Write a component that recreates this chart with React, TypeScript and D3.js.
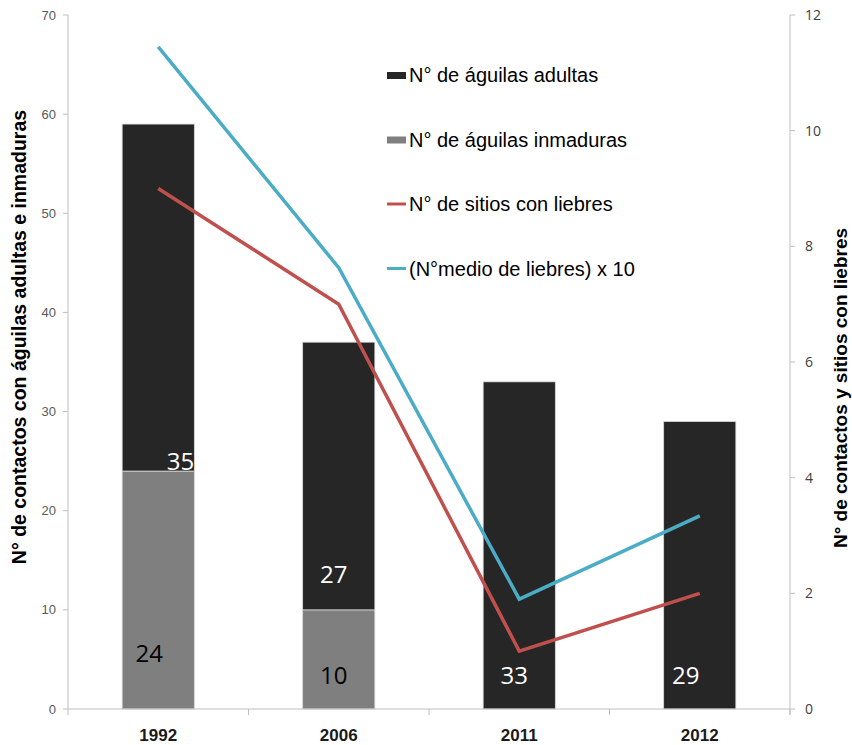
import React from "react";
import * as d3 from "d3";

const years = ["1992", "2006", "2011", "2012"];
const adultEagles = [35, 27, 33, 29];
const immatureEagles = [24, 10, 0, 0];
const sitesWithHares = [9, 7, 1, 2];
const meanHaresX10 = [11.45, 7.63, 1.9, 3.34];
const leftTicks = [0, 10, 20, 30, 40, 50, 60, 70];
const rightTicks = [0, 2, 4, 6, 8, 10, 12];

const W = 852;
const H = 745;
const margin = { left: 68, right: 62, top: 15, bottom: 36 };

const COLORS = {
  adult: "#262626",
  immature: "#7f7f7f",
  sites: "#c0504d",
  mean: "#4bacc6",
  axis: "#bfbfbf",
};

export default function App() {
  const x0 = margin.left;
  const x1 = W - margin.right;
  const yTop = margin.top;
  const yBot = H - margin.bottom;

  const x = d3.scaleBand<string>().domain(years).range([x0, x1]).paddingInner(0.6).paddingOuter(0.3);
  const yL = d3.scaleLinear().domain([0, 70]).range([yBot, yTop]);
  const yR = d3.scaleLinear().domain([0, 12]).range([yBot, yTop]);

  const cx = (yr: string) => (x(yr) as number) + x.bandwidth() / 2;
  const line = d3
    .line<number>()
    .x((_, i) => cx(years[i]))
    .y((d) => yR(d));

  const bands = years.map((yr, i) => ({
    yr,
    imm: immatureEagles[i],
    adu: adultEagles[i],
  }));

  // label placement: [dx from bar centre, dy above segment base, anchor]
  const immLabelPos: [number, number, string][] = [
    [-9, 47, "middle"],
    [-5, 25, "middle"],
  ];
  const aduLabelPos: [number, number, string][] = [
    [36, 1, "end"],
    [-5, 27, "middle"],
    [-5, 25, "middle"],
    [-14, 25, "middle"],
  ];

  const legendItems = [
    { label: "N° de águilas adultas", color: COLORS.adult, kind: "bar" },
    { label: "N° de águilas inmaduras", color: COLORS.immature, kind: "bar" },
    { label: "N° de sitios con liebres", color: COLORS.sites, kind: "line" },
    { label: "(N°medio de liebres) x 10", color: COLORS.mean, kind: "line" },
  ];
  const legendX = 387;
  const legendY0 = 75;
  const legendStep = 64.5;

  const labelFont = "'Open Sans', 'DejaVu Sans', sans-serif";
  const arial = "'Liberation Sans', Arial, sans-serif";

  return (
    <svg width={W} height={H} style={{ position: "absolute", left: 0, top: 0, background: "#fff" }}>
      {/* bars */}
      {bands.map((b) => {
        const bx = x(b.yr) as number;
        const bw = x.bandwidth();
        return (
          <g key={b.yr}>
            {b.imm > 0 && (
              <rect x={bx} y={yL(b.imm)} width={bw} height={yL(0) - yL(b.imm)} fill={COLORS.immature} stroke="#d9d9d9" strokeWidth={0.8} />
            )}
            <rect x={bx} y={yL(b.imm + b.adu)} width={bw} height={yL(b.imm) - yL(b.imm + b.adu)} fill={COLORS.adult} stroke="#d9d9d9" strokeWidth={0.8} />
          </g>
        );
      })}

      {/* axes */}
      <line x1={x0} x2={x0} y1={yTop} y2={yBot} stroke={COLORS.axis} />
      <line x1={x1} x2={x1} y1={yTop} y2={yBot + 6} stroke={COLORS.axis} />
      <line x1={x0} x2={x1} y1={yBot} y2={yBot} stroke={COLORS.axis} />
      {d3.range(0, years.length + 1).map((i) => {
        const tx = x0 + x.step() * i;
        return <line key={"xt" + i} x1={tx} x2={tx} y1={yBot} y2={yBot + 6} stroke={COLORS.axis} />;
      })}
      {leftTicks.map((t) => (
        <g key={"l" + t}>
          <line x1={x0 - 5} x2={x0} y1={yL(t)} y2={yL(t)} stroke={COLORS.axis} />
          <text x={x0 - 12} y={yL(t)} dy="0.35em" textAnchor="end" fontSize={13} fill="#595959" fontFamily={arial}>
            {t}
          </text>
        </g>
      ))}
      {rightTicks.map((t) => (
        <g key={"r" + t}>
          <line x1={x1} x2={x1 + 5} y1={yR(t)} y2={yR(t)} stroke={COLORS.axis} />
          <text x={x1 + 15} y={yR(t)} dy="0.35em" textAnchor="start" fontSize={14} fill="#404040" fontFamily={labelFont}>
            {t}
          </text>
        </g>
      ))}
      {years.map((yr) => (
        <text key={"x" + yr} x={cx(yr)} y={741} textAnchor="middle" fontSize={17} fontWeight="bold" fill="#1a1a1a" fontFamily={arial}>
          {yr}
        </text>
      ))}

      {/* axis titles */}
      <text transform={`translate(26, 337) rotate(-90)`} textAnchor="middle" fontSize={19.5} fontWeight="bold" fill="#000" fontFamily={arial}>
        N° de contactos con águilas adultas e inmaduras
      </text>
      <text transform={`translate(847, 388) rotate(-90)`} textAnchor="middle" fontSize={19} fontWeight="bold" fill="#000" fontFamily={arial}>
        N° de contactos y sitios con liebres
      </text>

      {/* lines */}
      <path d={line(sitesWithHares) || ""} fill="none" stroke={COLORS.sites} strokeWidth={3.5} />
      <path d={line(meanHaresX10) || ""} fill="none" stroke={COLORS.mean} strokeWidth={3.5} />

      {/* value labels */}
      {bands.map((b, i) => {
        const c = cx(b.yr);
        const out: React.ReactNode[] = [];
        if (b.imm > 0) {
          const p = immLabelPos[i];
          out.push(
            <text key={"im" + i} x={c + p[0]} y={yL(0) - p[1]} textAnchor={p[2] as any} fontSize={24} fill="#000" fontFamily={labelFont}>
              {b.imm}
            </text>
          );
        }
        const p = aduLabelPos[i];
        out.push(
          <text key={"ad" + i} x={c + p[0]} y={yL(b.imm) - p[1]} textAnchor={p[2] as any} fontSize={24} fill="#fff" fontFamily={labelFont}>
            {b.adu}
          </text>
        );
        return <g key={"lab" + i}>{out}</g>;
      })}

      {/* legend */}
      {legendItems.map((it, i) => {
        const ly = legendY0 + i * legendStep;
        return (
          <g key={it.label}>
            {it.kind === "bar" ? (
              <rect x={legendX} y={ly - 3} width={19} height={7} fill={it.color} />
            ) : (
              <line x1={legendX} x2={legendX + 19} y1={ly} y2={ly} stroke={it.color} strokeWidth={3} />
            )}
            <text x={legendX + 22} y={ly} dy="0.36em" fontSize={20} fill="#000" fontFamily={arial}>
              {it.label}
            </text>
          </g>
        );
      })}
    </svg>
  );
}
